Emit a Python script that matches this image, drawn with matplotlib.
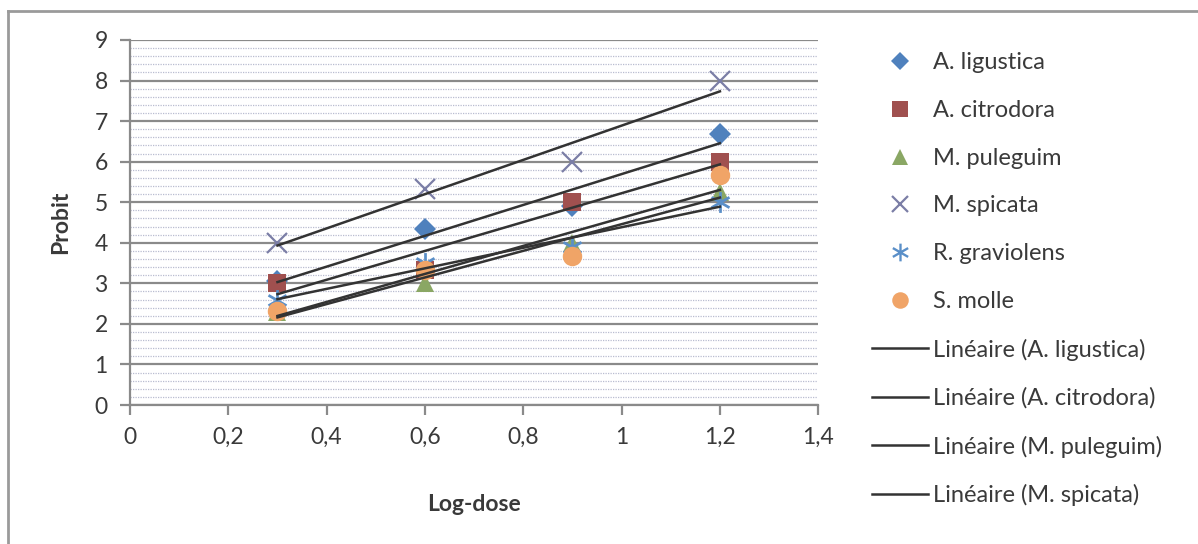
import numpy as np
import matplotlib.pyplot as plt
from matplotlib.lines import Line2D
from matplotlib.ticker import MultipleLocator, FuncFormatter

plt.rcParams['font.family'] = ['Lato', 'DejaVu Sans']

log_dose = [0.3, 0.6, 0.9, 1.2]

species = ['A. ligustica', 'A. citrodora', 'M. puleguim',
           'M. spicata', 'R. graviolens', 'S. molle']
probit = {
    'A. ligustica': [3.05, 4.35, 4.9, 6.67],
    'A. citrodora': [3.0, 3.33, 5.0, 6.0],
    'M. puleguim': [2.3, 3.0, 4.0, 5.25],
    'M. spicata': [4.0, 5.33, 6.0, 8.0],
    'R. graviolens': [2.6, 3.5, 3.9, 5.0],
    'S. molle': [2.33, 3.33, 3.67, 5.67],
}
markers = {
    'A. ligustica': ('D', '#4f81bd', 11),
    'A. citrodora': ('s', '#a0504f', 13),
    'M. puleguim': ('^', '#8aa764', 13),
    'M. spicata': ('x', '#7b7ea6', 14),
    'R. graviolens': ('$\u2217$', '#5a8fc8', 15),
    'S. molle': ('o', '#f0a467', 14),
}

fig = plt.figure(figsize=(11.98, 5.44), dpi=100)
ax = fig.add_axes([0.1085, 0.2555, 0.5745, 0.671])

# frame round the chart (only top and left visible)
fig.add_artist(Line2D([8 / 1198, 1.0], [1 - 11 / 544] * 2, color='#9a9a9a', lw=2))
fig.add_artist(Line2D([8 / 1198] * 2, [0, 1 - 11 / 544], color='#9a9a9a', lw=2))

ax.set_xlim(0, 1.4)
ax.set_ylim(0, 9)
ax.xaxis.set_major_locator(MultipleLocator(0.2))
ax.yaxis.set_major_locator(MultipleLocator(1))
ax.yaxis.set_minor_locator(MultipleLocator(0.2))
ax.xaxis.set_major_formatter(FuncFormatter(lambda v, p: f'{v:g}'.replace('.', ',')))
ax.grid(which='major', axis='y', color='#8a8a8a', lw=1.6)
ax.grid(which='minor', axis='y', color='#b9bcd0', lw=0.9, ls=(0, (1, 1)))
ax.tick_params(axis='y', which='minor', length=0)
ax.tick_params(axis='both', which='major', labelsize=16.5, color='#8a8a8a',
               width=1.6, length=7, labelcolor='#3a3a3a')
ax.tick_params(axis='x', pad=9)
ax.tick_params(axis='y', pad=9)
for s in ['top', 'right']:
    ax.spines[s].set_visible(False)
for s in ['left', 'bottom']:
    ax.spines[s].set_color('#8a8a8a')
    ax.spines[s].set_linewidth(1.6)
ax.set_axisbelow(True)

handles = []
for sp in species:
    m, c, ms = markers[sp]
    kw = dict(mew=1.6) if m == 'x' else dict(mew=0)
    h, = ax.plot(log_dose, probit[sp], ls='none', marker=m, color=c,
                 markersize=ms, label=sp, zorder=3, **kw)
    handles.append(h)

x = np.array(log_dose)
for i, sp in enumerate(species):
    k, b = np.polyfit(x, probit[sp], 1)
    h, = ax.plot(x[[0, -1]], k * x[[0, -1]] + b, color='#333333', lw=1.8,
                 zorder=4, label=f'Linéaire ({sp})')
    if i < 4:
        handles.append(h)

ax.set_xlabel('Log-dose', fontsize=16.5, fontweight='bold', color='#3a3a3a', labelpad=33)
ax.set_ylabel('Probit', fontsize=16.5, fontweight='bold', color='#3a3a3a', labelpad=17)

fig.legend(handles=handles, loc='upper left', bbox_to_anchor=(0.7197, 0.921),
           frameon=False, fontsize=17, labelcolor='#3a3a3a', markerscale=0.85,
           handlelength=2.4, handletextpad=0.2, labelspacing=1.13,
           borderaxespad=0)

fig.savefig('out.png', dpi=100)
